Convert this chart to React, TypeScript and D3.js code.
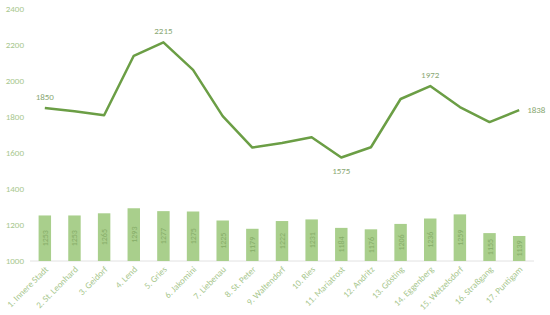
import React, { useEffect, useRef } from "react"
import * as d3 from "d3"

const districts = [
  "1. Innere Stadt",
  "2. St. Leonhard",
  "3. Geidorf",
  "4. Lend",
  "5. Gries",
  "6. Jakomini",
  "7. Liebenau",
  "8. St. Peter",
  "9. Waltendorf",
  "10. Ries",
  "11. Mariatrost",
  "12. Andritz",
  "13. Gösting",
  "14. Eggenberg",
  "15. Wetzelsdorf",
  "16. Straßgang",
  "17. Puntigam"
]
const barValues = [1253, 1253, 1265, 1293, 1277, 1275, 1225, 1179, 1222, 1231, 1184, 1176, 1206, 1236, 1259, 1155, 1139]
const lineValues = [1850, 1832, 1810, 2140, 2215, 2062, 1805, 1630, 1655, 1688, 1575, 1632, 1900, 1972, 1855, 1772, 1838]
const yTicks = [1000, 1200, 1400, 1600, 1800, 2000, 2200, 2400]
const labelledPoints = [0, 4, 10, 13, 16]

export default function App() {
  const ref = useRef<SVGSVGElement>(null)

  useEffect(() => {
    const w = 550
    const h = 315
    const svg = d3.select(ref.current)
    svg.selectAll("*").remove()
    svg.attr("width", w).attr("height", h)

    const font = "Calibri, Carlito, 'Liberation Sans', sans-serif"

    const x = d3.scaleBand<string>().domain(districts).range([30, 534]).paddingInner(0.58).paddingOuter(0.29)
    const y = d3.scaleLinear().domain([1000, 2400]).range([261, 9])
    const cx = (d: string) => (x(d) as number) + x.bandwidth() / 2

    // y tick labels
    svg
      .selectAll("text.ytick")
      .data(yTicks)
      .enter()
      .append("text")
      .attr("x", 24)
      .attr("y", d => y(d) + 3)
      .attr("text-anchor", "end")
      .attr("font-family", font)
      .attr("font-size", 9)
      .attr("fill", "#a8c78e")
      .text(d => d)

    // baseline
    svg
      .append("line")
      .attr("x1", 30)
      .attr("x2", 534)
      .attr("y1", y(1000))
      .attr("y2", y(1000))
      .attr("stroke", "#e2e2e2")
      .attr("stroke-width", 1)

    // bars
    svg
      .selectAll("rect")
      .data(barValues)
      .enter()
      .append("rect")
      .attr("x", (d, i) => x(districts[i]) as number)
      .attr("y", d => y(d))
      .attr("width", x.bandwidth())
      .attr("height", d => y(1000) - y(d))
      .attr("fill", "#a9cf8c")

    // bar value labels
    svg
      .selectAll("text.barlabel")
      .data(barValues)
      .enter()
      .append("text")
      .attr("transform", (d, i) => {
        const mid = (y(d) + y(1000)) / 2
        return "translate(" + (cx(districts[i]) + 3) + "," + mid + ") rotate(-90)"
      })
      .attr("text-anchor", "middle")
      .attr("font-family", font)
      .attr("font-size", 8)
      .attr("fill", "#86ad68")
      .text(d => d)

    // category labels
    svg
      .selectAll("text.cat")
      .data(districts)
      .enter()
      .append("text")
      .attr("transform", d => "translate(" + (cx(d) + 4) + "," + 270 + ") rotate(-45)")
      .attr("text-anchor", "end")
      .attr("font-family", font)
      .attr("font-size", 9)
      .attr("fill", "#a8c78e")
      .text(d => d)

    // line
    const line = d3
      .line<number>()
      .x((d, i) => cx(districts[i]))
      .y(d => y(d))

    svg
      .append("path")
      .datum(lineValues)
      .attr("d", line)
      .attr("fill", "none")
      .attr("stroke", "#6b9e45")
      .attr("stroke-width", 2.5)
      .attr("stroke-linejoin", "round")

    // line labels
    labelledPoints.forEach(i => {
      const v = lineValues[i]
      let lx = cx(districts[i])
      let ly = y(v) - 8
      let anchor = "middle"
      if (i === 10) ly = y(v) + 16
      if (i === 16) {
        lx = cx(districts[i]) + 8
        ly = y(v) + 3
        anchor = "start"
      }
      svg
        .append("text")
        .attr("x", lx)
        .attr("y", ly)
        .attr("text-anchor", anchor)
        .attr("font-family", font)
        .attr("font-size", 9)
        .attr("fill", "#8aa874")
        .text(v)
    })
  }, [])

  return <svg ref={ref} style={{ position: "absolute", left: 0, top: 0 }} />
}
